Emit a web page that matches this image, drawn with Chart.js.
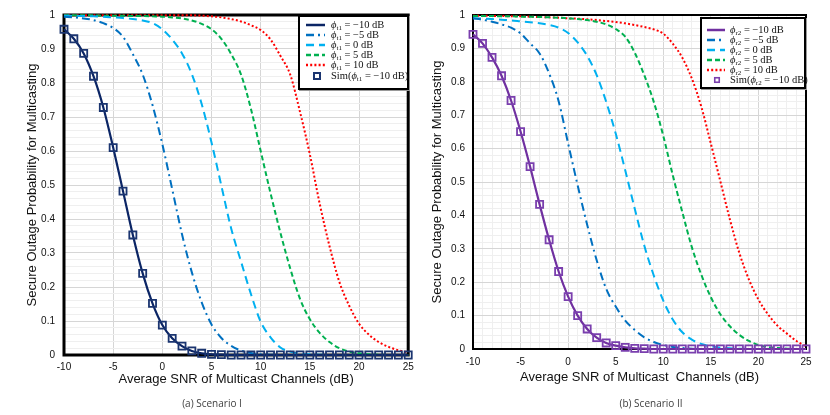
<!DOCTYPE html>
<html><head><meta charset="utf-8">
<script src="https://cdn.jsdelivr.net/npm/chart.js@4.4.1/dist/chart.umd.min.js"></script>
<style>
html,body{margin:0;padding:0;background:#fff;}
#wrap{position:relative;width:830px;height:415px;overflow:hidden;background:#fff;}
#wrap canvas{position:absolute;top:0;}
.lg{position:absolute;background:#fff;border:2px solid #000;box-sizing:border-box;box-shadow:1px 1px 0 #9a9a9a;font-family:'Liberation Serif','DejaVu Serif',serif;font-size:10.5px;color:#111;}
.row{position:absolute;left:0;right:0;height:10px;line-height:10px;white-space:nowrap;}
.row svg{position:absolute;top:0;}
.row span.t{position:absolute;top:0;}
.row sub{font-size:7px;vertical-align:-2px;line-height:0;}
.cap{position:absolute;top:396px;font-family:'Open Sans',sans-serif;font-size:10px;color:#404040;transform:translateX(-50%);white-space:nowrap;}
</style></head>
<body>
<div id="wrap">
  <canvas id="c1" width="415" height="415" style="left:0;width:415px;height:415px"></canvas>
  <canvas id="c2" width="415" height="415" style="left:415px;width:415px;height:415px"></canvas>
  <div class="lg" id="lg1" style="left:298px;top:15px;width:111px;height:75px"></div>
  <div class="lg" id="lg2" style="left:700px;top:17px;width:106px;height:72px"></div>
  <div class="cap" style="left:212px">(a) Scenario I</div>
  <div class="cap" style="left:651px">(b) Scenario II</div>
</div>
<script>
// ---------- data ----------
const snr = [-10,-9,-8,-7,-6,-5,-4,-3,-2,-1,0,1,2,3,4,5,6,7,8,9,10,11,12,13,14,15,16,17,18,19,20,21,22,23,24,25];
const xTickLabels = [-10,-5,0,5,10,15,20,25];
const yTickLabels = [0,0.1,0.2,0.3,0.4,0.5,0.6,0.7,0.8,0.9,1];

// Scenario I
const s1_m10 = [0.958,0.930,0.887,0.820,0.728,0.610,0.482,0.353,0.240,0.152,0.088,0.049,0.026,0.012,0.005,0.002,0.001,0,0,0,0,0,0,0,0,0,0,0,0,0,0,0,0,0,0,0];
const s1_m5  = [0.995,0.993,0.990,0.985,0.976,0.962,0.936,0.885,0.825,0.735,0.620,0.488,0.355,0.243,0.155,0.090,0.050,0.027,0.013,0.006,0.002,0.001,0,0,0,0,0,0,0,0,0,0,0,0,0,0];
const s1_0   = [0.998,0.998,0.997,0.996,0.995,0.993,0.991,0.988,0.984,0.976,0.958,0.928,0.887,0.826,0.738,0.625,0.498,0.372,0.275,0.180,0.098,0.052,0.022,0.010,0.004,0.002,0.001,0,0,0,0,0,0,0,0,0];
const s1_5   = [0.999,0.999,0.999,0.999,0.998,0.998,0.998,0.997,0.997,0.996,0.995,0.993,0.990,0.984,0.974,0.958,0.930,0.885,0.825,0.725,0.600,0.476,0.360,0.255,0.165,0.105,0.065,0.038,0.020,0.010,0.005,0.002,0.001,0,0,0];
const s1_10  = [0.999,0.999,0.999,0.999,0.999,0.999,0.999,0.999,0.999,0.999,0.999,0.999,0.999,0.999,0.998,0.996,0.993,0.988,0.981,0.970,0.956,0.928,0.880,0.825,0.715,0.590,0.445,0.320,0.215,0.145,0.092,0.060,0.038,0.024,0.014,0.008];
const s1_sim = [0.958,0.930,0.887,0.820,0.728,0.610,0.482,0.353,0.240,0.152,0.088,0.049,0.026,0.012,0.005,0.002,0.001,0,0,0,0,0,0,0,0,0,0,0,0,0,0,0,0,0,0,0];

// Scenario II
const s2_m10 = [0.942,0.915,0.873,0.818,0.744,0.651,0.546,0.433,0.327,0.232,0.157,0.100,0.060,0.034,0.018,0.010,0.005,0.002,0.001,0,0,0,0,0,0,0,0,0,0,0,0,0,0,0,0,0];
const s2_m5  = [0.990,0.986,0.980,0.972,0.962,0.945,0.915,0.885,0.825,0.742,0.615,0.490,0.372,0.266,0.180,0.127,0.085,0.057,0.035,0.021,0.012,0.006,0.003,0.001,0,0,0,0,0,0,0,0,0,0,0,0];
const s2_0   = [0.990,0.989,0.988,0.986,0.984,0.981,0.978,0.975,0.970,0.962,0.946,0.918,0.878,0.820,0.740,0.645,0.535,0.420,0.310,0.220,0.145,0.088,0.050,0.028,0.015,0.008,0.004,0.002,0.001,0,0,0,0,0,0,0];
const s2_5   = [0.997,0.997,0.997,0.996,0.996,0.995,0.995,0.994,0.993,0.992,0.990,0.988,0.985,0.980,0.972,0.958,0.935,0.887,0.820,0.740,0.638,0.520,0.410,0.305,0.222,0.155,0.104,0.068,0.042,0.024,0.012,0.006,0.003,0.001,0,0];
const s2_10  = [0.998,0.998,0.997,0.997,0.996,0.996,0.995,0.994,0.993,0.992,0.990,0.989,0.987,0.985,0.982,0.979,0.975,0.970,0.964,0.957,0.944,0.914,0.872,0.810,0.725,0.615,0.502,0.388,0.287,0.208,0.148,0.104,0.070,0.046,0.024,0.008];
const s2_sim = [0.942,0.915,0.873,0.818,0.744,0.651,0.546,0.433,0.327,0.232,0.157,0.100,0.060,0.034,0.018,0.010,0.005,0.002,0.001,0,0,0,0,0,0,0,0,0,0,0,0,0,0,0,0,0];

const labels1 = ['<i>ϕ</i><sub>t1</sub> = −10 dB','<i>ϕ</i><sub>t1</sub> = −5 dB','<i>ϕ</i><sub>t1</sub> = 0 dB','<i>ϕ</i><sub>t1</sub> = 5 dB','<i>ϕ</i><sub>t1</sub> = 10 dB','Sim(<i>ϕ</i><sub>t1</sub> = −10 dB)'];
const labels2 = ['<i>ϕ</i><sub>r2</sub> = −10 dB','<i>ϕ</i><sub>r2</sub> = −5 dB','<i>ϕ</i><sub>r2</sub> = 0 dB','<i>ϕ</i><sub>r2</sub> = 5 dB','<i>ϕ</i><sub>r2</sub> = 10 dB','Sim(<i>ϕ</i><sub>r2</sub> = −10 dB)'];
const xTitle1 = 'Average SNR of Multicast Channels (dB)';
const xTitle2 = 'Average SNR of Multicast  Channels (dB)';
const yTitle = 'Secure Outage Probability for Multicasting';

// ---------- styling ----------
const BLUE='#0070C0', LBLUE='#00B0F0', GREEN='#00B050', RED='#FF0000';
const styles = [
  {dash:[], w:2.2},
  {dash:[8,4,2,4], w:2, c:BLUE},
  {dash:[8,5], w:2, c:LBLUE},
  {dash:[5,3], w:2, c:GREEN},
  {dash:[2,2.2], w:2, c:RED}
];
const pts = arr => snr.map((x,i)=>({x:x, y:arr[i]}));
const TICKFONT = {family:"'Liberation Sans', Arial, sans-serif", size:10};
const TITLEFONT = {family:"'Liberation Sans', Arial, sans-serif", size:13};

const frame = {
  id:'frame',
  beforeDatasetsDraw(chart, args, o){
    const {ctx, chartArea:a} = chart;
    ctx.save(); ctx.strokeStyle='#000'; ctx.lineWidth=o.width;
    ctx.strokeRect(a.left, a.top, a.right-a.left, a.bottom-a.top);
    ctx.restore();
  }
};

function build(id, o){
  const series = o.series;
  const ds = [{
    data: pts(o.sim), showLine:false, pointStyle:'rect', pointRadius:o.simR, pointBorderWidth:o.simBW,
    borderColor:o.simColor, pointBorderColor:o.simColor, backgroundColor:'rgba(0,0,0,0)', pointBackgroundColor:'rgba(0,0,0,0)', order:0, clip:false
  }];
  series.forEach((arr,i)=>{
    const st = styles[i];
    ds.push({data:pts(arr), borderColor: i===0 ? o.mainColor : st.c, borderWidth:st.w, borderDash:st.dash,
      pointRadius:0, fill:false, cubicInterpolationMode:'monotone', order:i+1, clip:false});
  });
  const isMajorX = v => xTickLabels.some(t => Math.abs(t-v)<1e-6);
  const isMajorY = v => yTickLabels.some(t => Math.abs(t-v)<1e-6);
  return new Chart(document.getElementById(id), {
    type:'line',
    data:{datasets:ds},
    plugins:[frame],
    options:{
      responsive:false, animation:false, events:[],
      layout:{padding:{left:0, top:15, right:o.padR, bottom:o.padB}},
      plugins:{legend:{display:false}, tooltip:{enabled:false}, frame:{width:o.frameW}},
      scales:{
        x:{type:'linear', min:-10, max:25,
          ticks:{stepSize:o.xStep, autoSkip:false, maxRotation:0, padding:o.xTickPad, color:'#111', font:TICKFONT,
            callback:v => isMajorX(v) ? String(Math.round(v)) : ''},
          grid:{drawTicks:false, lineWidth:1, color:c => (c.tick && isMajorX(c.tick.value)) ? '#d6d6d6' : '#efefef'},
          border:{display:false},
          title:{display:true, text:o.xTitle, color:'#111', font:TITLEFONT, padding:{top:0,bottom:o.xTitlePad}},
          afterFit:s=>{ s.height=40; s.paddingLeft=0; s.paddingRight=0; }
        },
        y:{type:'linear', min:0, max:1,
          ticks:{stepSize:0.02, autoSkip:false, padding:o.yTickPad, color:'#111', font:TICKFONT,
            callback:v => isMajorY(v) ? String(Math.round(v*10)/10) : ''},
          grid:{drawTicks:false, lineWidth:1, color:c => (c.tick && isMajorY(c.tick.value)) ? '#d6d6d6' : '#efefef'},
          border:{display:false},
          title:{display:true, text:yTitle, color:'#111', font:TITLEFONT, padding:{top:o.yTitlePad,bottom:0}},
          afterFit:s=>{ s.width=o.yW; s.paddingTop=0; s.paddingBottom=0; }
        }
      }
    }
  });
}

build('c1', {series:[s1_m10,s1_m5,s1_0,s1_5,s1_10], sim:s1_sim, mainColor:'#0b2565', simColor:'#1b3570', simR:5, simBW:1.8,
  padR:5, padB:20, frameW:3, xStep:5, xTickPad:6, xTitlePad:8, yTickPad:9, yTitlePad:25, yW:64, xTitle:xTitle1});
build('c2', {series:[s2_m10,s2_m5,s2_0,s2_5,s2_10], sim:s2_sim, mainColor:'#7030A0', simColor:'#7a3fae', simR:5, simBW:1.8,
  padR:24, padB:26, frameW:2, xStep:1, xTickPad:7, xTitlePad:4, yTickPad:8, yTitlePad:15, yW:58, xTitle:xTitle2});

// ---------- legends ----------
function legend(id, labels, o){
  const box = document.getElementById(id);
  const colors = [o.main, BLUE, LBLUE, GREEN, RED];
  labels.forEach((lab,i)=>{
    const row = document.createElement('div');
    row.className='row';
    row.style.top = (o.rows[i] - o.top - 2 - 5) + 'px';
    let svg;
    if (i < 5){
      const st = styles[i];
      svg = `<svg width="${o.sw}" height="10" style="left:${o.sx}px"><line x1="0" y1="5" x2="${o.sw}" y2="5" stroke="${colors[i]}" stroke-width="${st.w+0.3}" stroke-dasharray="${st.dash.length?st.dash.join(','):'none'}"/></svg>`;
    } else {
      const s = o.sq;
      svg = `<svg width="12" height="10" style="left:${o.sqx-6}px"><rect x="${6-s/2}" y="${5-s/2}" width="${s}" height="${s}" fill="none" stroke="${o.simc}" stroke-width="${o.sqw}"/></svg>`;
    }
    row.innerHTML = svg + `<span class="t" style="left:${o.tx}px">${lab}</span>`;
    box.appendChild(row);
  });
}
legend('lg1', labels1, {main:'#0b2565', simc:'#1b3570', top:15, rows:[25,35,45,55,65,76], sx:6, sw:19, tx:31, sqx:17, sq:6, sqw:2});
legend('lg2', labels2, {main:'#7030A0', simc:'#7a3fae', top:17, rows:[30,40,50,60,70,80], sx:5, sw:18, tx:28, sqx:15, sq:4.5, sqw:1.6});
</script>
</body></html>
